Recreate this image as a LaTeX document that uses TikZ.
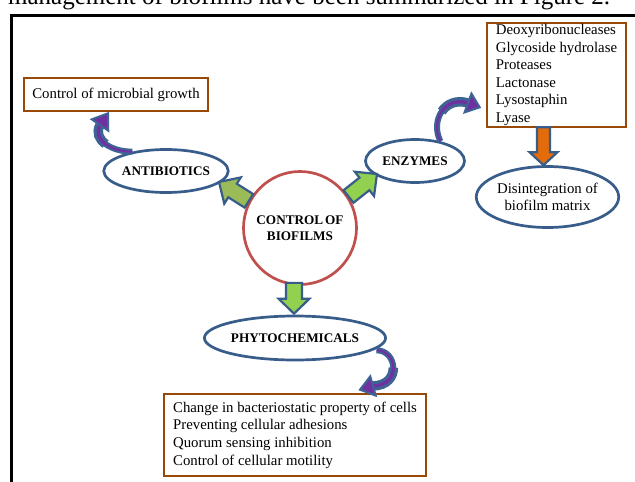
\documentclass[tikz,border=0pt]{standalone}
\usepackage{fontspec}
\setmainfont{Liberation Serif}
\usetikzlibrary{shapes.geometric,calc}
\definecolor{elblue}{RGB}{56,93,138}
\definecolor{circred}{RGB}{192,80,77}
\definecolor{boxbrown}{RGB}{152,72,7}
\definecolor{olivegreen}{RGB}{155,187,89}
\definecolor{limegreen}{RGB}{146,208,80}
\definecolor{arrorange}{RGB}{227,108,9}
\definecolor{cblue}{RGB}{62,100,150}
\definecolor{cpurple}{RGB}{112,48,160}

% block arrow: #1 style, #2 tail, #3 tip, #4 shaft half width, #5 head half width, #6 head length
\newcommand\blockarrow[6]{%
  \path ($(#3)!#6!(#2)$) coordinate (bac);
  \draw[#1] ($(#2)!#4!90:(#3)$) -- ($(bac)!#4!90:(#3)$) -- ($(bac)!#5!90:(#3)$) -- (#3)
    -- ($(bac)!#5!-90:(#3)$) -- ($(bac)!#4!-90:(#3)$) -- ($(#2)!#4!-90:(#3)$) -- cycle;}
% curved (tapering) arrow: #1 tail, #2 c1, #3 c2, #4 head base, #5 tip, #6 head half width
\newcommand\curvedarrow[6]{%
  \coordinate (ca0) at (#1);
  \coordinate (ca1) at #2;
  \coordinate (ca2) at #3;
  \coordinate (ca3) at (#4);
  \coordinate (m01) at ($(ca0)!0.5!(ca1)$);
  \coordinate (m12) at ($(ca1)!0.5!(ca2)$);
  \coordinate (m23) at ($(ca2)!0.5!(ca3)$);
  \coordinate (m012) at ($(m01)!0.5!(m12)$);
  \coordinate (m123) at ($(m12)!0.5!(m23)$);
  \coordinate (mm) at ($(m012)!0.5!(m123)$);
  \draw[cblue,line width=6pt] (ca0) .. controls (ca1) and (ca2) .. (ca3);
  \draw[cblue,line width=9.5pt] (mm) .. controls (m123) and (m23) .. (ca3);
  \draw[cpurple,line width=2pt] (ca0) .. controls (ca1) and (ca2) .. (ca3);
  \draw[cpurple,line width=3.2pt] (mm) .. controls (m123) and (m23) .. (ca3);
  \draw[cblue,line width=2pt,fill=cpurple,line join=miter]
    ($(ca3)!#6!90:(#5)$) -- (#5) -- ($(ca3)!#6!-90:(#5)$) -- cycle;}

\tikzset{
  lbl/.style={ellipse,draw=elblue,line width=2.7pt,fill=white,inner sep=0pt,
    font=\fontsize{13.2}{15.5}\selectfont\bfseries},
  brownbox/.style={rectangle,draw=boxbrown,line width=2.6pt,fill=white,inner sep=0pt,
    align=left,font=\fontsize{14.8}{17.6}\selectfont},
  greenarrow/.style={draw=elblue,line width=2.2pt,fill=limegreen,line join=miter},
  olivearrow/.style={draw=elblue,line width=2.2pt,fill=olivegreen,line join=miter},
  orangearrow/.style={draw=elblue,line width=2.2pt,fill=arrorange,line join=miter},
}

\begin{document}
\begin{tikzpicture}[x=1pt,y=-1pt]
\useasboundingbox (0,0) rectangle (635,482);
\fill[white] (0,0) rectangle (635,482);

% page text above the figure (cut off, as in the reference)
\node[anchor=base west,inner sep=0pt,font=\fontsize{25}{29}\selectfont] (toptext) at (8,4.5)
  {management of biofilms have been summarized in Figure 2.};

% frame
\draw[line width=2.5pt,line join=miter] (11.5,700) -- (11.5,15.5) -- (700,15.5);

% nodes
\node[circle,draw=circred,line width=2.7pt,fill=white,minimum size=113pt,inner sep=0pt,
  align=center,font=\fontsize{13.2}{15.5}\selectfont\bfseries] (circ) at (300,228)
  {CONTROL\kern2pt OF\\BIOFILMS};
\node[lbl,minimum width=105pt,minimum height=43pt] (antib) at (166,171) {ANTIBIOTICS};
\node[lbl,minimum width=99pt,minimum height=43pt] (enz) at (415,161) {ENZYMES};
\node[lbl,minimum width=141pt,minimum height=44pt] (phyto) at (295,338) {PHYTOCHEMICALS};
\node[ellipse,draw=elblue,line width=2.7pt,fill=white,inner sep=0pt,minimum width=120pt,
  minimum height=61pt,align=center,font=\fontsize{14.8}{16.5}\selectfont] (disint)
  at (547.5,197) {Disintegration of\\biofilm matrix};

\node[brownbox,minimum width=184pt,minimum height=33pt] (ctrl) at (116,94.5)
  {Control of microbial growth};
\node[brownbox,minimum width=139pt,minimum height=104pt] (enzbox) at (556.5,75)
  {Deoxyribonucleases\\Glycoside hydrolase\\Proteases\\Lactonase\\Lysostaphin\\Lyase};
\node[brownbox,minimum width=262pt,minimum height=82pt] (phybox) at (295,435)
  {Change in bacteriostatic property of cells\\Preventing cellular adhesions\\Quorum sensing inhibition\\Control of cellular motility};

% block arrows
\coordinate (glT) at (circ.152);
\coordinate (glH) at (219,182);
\blockarrow{olivearrow}{glT}{glH}{8pt}{15.5pt}{16pt}
\coordinate (grT) at (circ.33);
\coordinate (grH) at (377,174);
\blockarrow{greenarrow}{grT}{grH}{8pt}{15.5pt}{16pt}
\coordinate (gdT) at ([xshift=-6pt,yshift=3pt]circ.south);
\coordinate (gdH) at ([xshift=-1pt,yshift=1pt]phyto.north);
\blockarrow{greenarrow}{gdT}{gdH}{8pt}{15.5pt}{15pt}
\coordinate (orT) at ([xshift=-13pt,yshift=1pt]enzbox.south);
\coordinate (orH) at ([xshift=-4pt]disint.north);
\blockarrow{orangearrow}{orT}{orH}{6.5pt}{14pt}{13pt}

% curved arrows
\coordinate (c1B) at (100,125);
\coordinate (c1T) at ([xshift=-8pt,yshift=-1pt]ctrl.south);
\curvedarrow{antib.150}{(112,152)}{(92,140)}{c1B}{c1T}{10pt}
\coordinate (c2B) at (468,103);
\coordinate (c2T) at ([xshift=-6pt,yshift=21pt]enzbox.south west);
\curvedarrow{enz.38}{(430,120)}{(445,96)}{c2B}{c2T}{10pt}
\coordinate (c3S) at ([xshift=6pt,yshift=1pt]phyto.-10);
\coordinate (c3B) at (373,386);
\coordinate (c3T) at ([xshift=65pt,yshift=3pt]phybox.north);
\curvedarrow{c3S}{(397,350)}{(402,385)}{c3B}{c3T}{10pt}
\end{tikzpicture}
\end{document}
